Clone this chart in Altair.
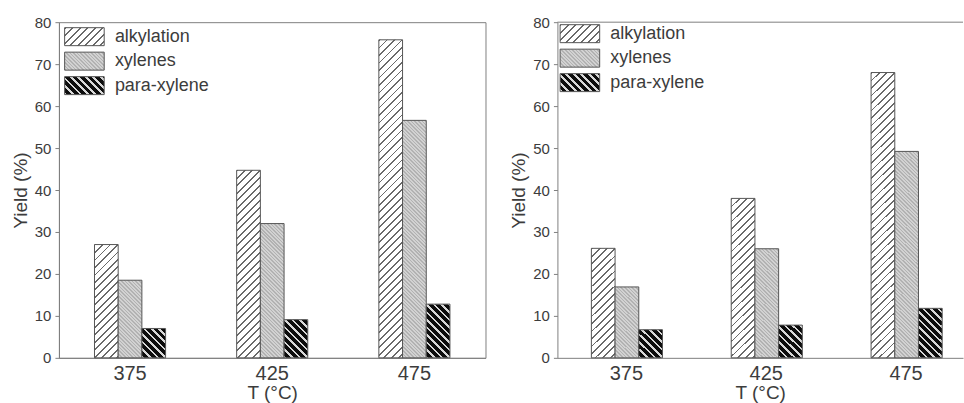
import altair as alt
import pandas as pd

# ---------------- data ----------------
temps = ["375", "425", "475"]
series = ["alkylation", "xylenes", "para-xylene"]

left_alkylation = [27.0, 44.7, 75.8]
left_xylenes = [18.5, 32.0, 56.6]
left_para = [7.0, 9.1, 12.8]

right_alkylation = [26.1, 38.0, 68.0]
right_xylenes = [16.9, 26.0, 49.2]
right_para = [6.7, 7.8, 11.8]

y_ticks = [0, 10, 20, 30, 40, 50, 60, 70, 80]

# ---------------- layout / style ----------------
PLOT_H = 336
LEFT_W = 427
RIGHT_W = 406
TXT = "#3c3c3c"
AXC = "#808080"
EDGE = "#555555"
FONT = "Liberation Sans"

HATCH = {
    "alkylation": dict(bg="#ffffff", fg="#6a6a6a", period=7.5, frac=0.24, slope="/"),
    "xylenes": dict(bg="#d2d2d2", fg="#b2b2b2", period=3.6, frac=0.45, slope="\\"),
    "para-xylene": dict(bg="#0d0d0d", fg="#d8d8d8", period=7.5, frac=0.34, slope="\\"),
}


def hatch(w, h, bg, fg, period, frac, slope):
    """Diagonal stripes as a hard-stop linear gradient (bbox units)."""
    L = w + h
    stops = []
    pos = 0.0
    while pos < L - 1e-9:
        a = round(pos / L, 5)
        b = round(min(pos + frac * period, L) / L, 5)
        c = round(min(pos + period, L) / L, 5)
        stops += [(a, fg), (b, fg), (b, bg), (c, bg)]
        pos += period
    d = w * w + h * h
    gx = round(w * L / d, 5)
    gy = round(h * L / d, 5)
    if slope == "/":
        return dict(x1=0, y1=0, x2=gx, y2=gy, stops=stops)
    return dict(x1=0, y1=1, x2=gx, y2=round(1 - gy, 5), stops=stops)


def as_gradient(g):
    return alt.LinearGradient(
        gradient="linear",
        x1=g["x1"], y1=g["y1"], x2=g["x2"], y2=g["y2"],
        stops=[alt.GradientStop(offset=o, color=c) for o, c in g["stops"]],
    )


def as_expr(g):
    st = ",".join("{offset:%s,color:'%s'}" % (o, c) for o, c in g["stops"])
    return {"expr": "{gradient:'linear',x1:%s,y1:%s,x2:%s,y2:%s,stops:[%s]}" % (
        g["x1"], g["y1"], g["x2"], g["y2"], st)}


# legend swatch: custom path, 39.6 x 18 px
SYM_SIZE = 324
SYM_PATH = "M-2.2,-1H2.2V1H-2.2Z"
legend_range = [as_expr(hatch(39.6, 18, **HATCH[s])) for s in series]


def panel(alk, xyl, par, width, pad_outer, align, legend_offset, framed):
    vals = {"alkylation": alk, "xylenes": xyl, "para-xylene": par}
    df = pd.DataFrame(
        [{"T": t, "series": s, "value": vals[s][i]} for s in series for i, t in enumerate(temps)]
    )
    xscale = alt.Scale(domain=temps, paddingInner=0.5, paddingOuter=pad_outer, align=align)
    step = width / (len(temps) - 0.5 + 2 * pad_outer)
    bar_w = step * 0.5 / len(series)
    px_per_unit = PLOT_H / y_ticks[-1]

    base = alt.Chart(df).encode(
        x=alt.X("T:N", scale=xscale,
                axis=alt.Axis(title="T (°C)", labelAngle=0, ticks=False, tickSize=0,
                              labelPadding=6, titlePadding=0, labelFontSize=20,
                              titleFontSize=19)),
        xOffset=alt.XOffset("series:N", scale=alt.Scale(domain=series)),
        y=alt.Y("value:Q", scale=alt.Scale(domain=[0, y_ticks[-1]]),
                axis=alt.Axis(title="Yield (%)", values=y_ticks, format="d", grid=False,
                              tickSize=4, labelPadding=4, titlePadding=4,
                              labelFontSize=15, titleFontSize=19)),
    )

    legend_layer = base.mark_bar(opacity=0, stroke=EDGE).encode(
        color=alt.Color(
            "series:N",
            scale=alt.Scale(domain=series, range=legend_range),
            legend=alt.Legend(
                title=None, orient="top-left", offset=legend_offset, padding=0,
                symbolType=SYM_PATH, symbolSize=SYM_SIZE, symbolOffset=11,
                symbolStrokeColor=EDGE, symbolStrokeWidth=1, symbolOpacity=1,
                labelOffset=21, labelFontSize=18, labelColor=TXT, labelFont=FONT,
                rowPadding=1.5,
            ),
        )
    )

    layers = [legend_layer]
    for s in series:
        for i, t in enumerate(temps):
            h = vals[s][i] * px_per_unit
            g = as_gradient(hatch(bar_w, h, **HATCH[s]))
            layers.append(
                base.transform_filter(
                    (alt.datum.series == s) & (alt.datum.T == t)
                ).mark_bar(fill=g, stroke=EDGE, strokeWidth=1)
            )
    if not framed:
        top = alt.Chart(alt.Data(values=[{"edge": y_ticks[-1]}])).mark_rule(
            color=AXC, strokeWidth=1
        ).encode(y=alt.Y("edge:Q"))
        layers.append(top)

    view = alt.ViewBackground(stroke=AXC if framed else "transparent", strokeWidth=1)
    return alt.layer(*layers).properties(width=width, height=PLOT_H, view=view)


left = panel(left_alkylation, left_xylenes, left_para, LEFT_W, 0.25, 0.5, 5, True)
right = panel(right_alkylation, right_xylenes, right_para, RIGHT_W, 0.2, 0.607, 2, False)

chart = (
    alt.hconcat(left, right, spacing=22)
    .resolve_scale(color="independent")
    .resolve_legend(color="independent")
    .properties(padding={"left": 10, "top": 14, "right": 0, "bottom": 0}, background="white")
    .configure_axis(labelFont=FONT, titleFont=FONT, labelColor=TXT, titleColor=TXT,
                    domainColor=AXC, tickColor=AXC, titleFontWeight="normal")
    .configure_legend(labelFont=FONT)
)

chart.save("out.html", embed_options={"renderer": "svg", "actions": False})
